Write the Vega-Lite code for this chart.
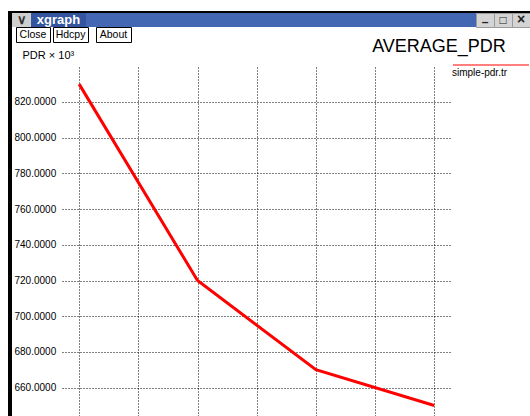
{
  "$schema": "https://vega.github.io/schema/vega-lite/v6.json",
  "padding": {"left": 8, "top": 11, "right": 0, "bottom": 0},
  "background": "white",
  "config": {"view": {"stroke": null}, "font": "Liberation Sans"},
  "bounds": "flush",
  "spacing": 0,
  "hconcat": [
    {"width": 4, "height": 405, "view": {"fill": "black"}, "data": {"values": []}, "mark": "point"},
    {
      "bounds": "flush",
      "spacing": 56,
      "vconcat": [
        {
          "bounds": "flush",
          "spacing": 0,
          "vconcat": [
            {"width": 518, "height": 2, "view": {"fill": "black"}, "data": {"values": []}, "mark": "point"},
            {
              "bounds": "flush",
              "spacing": 0,
              "hconcat": [
                {"width": 19, "height": 14, "view": {"fill": "#cfcfcf"}, "data": {"values": [{"t": "∨"}]}, "mark": {"type": "text", "fontSize": 13, "fontWeight": "bold", "color": "#333333"}, "encoding": {"text": {"field": "t"}}},
                {"width": 55, "height": 14, "view": {"fill": "#34549f"}, "data": {"values": [{"t": "xgraph"}]}, "mark": {"type": "text", "fontSize": 13, "fontWeight": "bold", "color": "white"}, "encoding": {"text": {"field": "t"}}},
                {"width": 390, "height": 14, "view": {"fill": "#4467b3"}, "data": {"values": []}, "mark": "point"},
                {"width": 18, "height": 14, "view": {"fill": "#d4d4d4", "stroke": "#9a9a9a"}, "data": {"values": [{"t": "–"}]}, "mark": {"type": "text", "fontSize": 12, "fontWeight": "bold", "color": "#222222", "dy": 2}, "encoding": {"text": {"field": "t"}}},
                {"width": 18, "height": 14, "view": {"fill": "#d4d4d4", "stroke": "#9a9a9a"}, "data": {"values": [{"t": "□"}]}, "mark": {"type": "text", "fontSize": 12, "fontWeight": "bold", "color": "#222222"}, "encoding": {"text": {"field": "t"}}},
                {"width": 18, "height": 14, "view": {"fill": "#d4d4d4", "stroke": "#9a9a9a"}, "data": {"values": [{"t": "×"}]}, "mark": {"type": "text", "fontSize": 14, "fontWeight": "bold", "color": "#222222"}, "encoding": {"text": {"field": "t"}}}
              ]
            },
            {"width": 518, "height": 14, "data": {"values": []}, "mark": "point"},
            {
              "bounds": "flush",
              "spacing": 0,
              "hconcat": [
                {"width": 4, "height": 16, "data": {"values": []}, "mark": "point"},
                {"width": 34, "height": 15, "view": {"fill": "white", "stroke": "black"}, "data": {"values": [{"label": "Close"}]}, "mark": {"type": "text", "fontSize": 10.5, "color": "black"}, "encoding": {"text": {"field": "label"}}},
                {"width": 3, "height": 16, "data": {"values": []}, "mark": "point"},
                {"width": 35, "height": 15, "view": {"fill": "white", "stroke": "black"}, "data": {"values": [{"label": "Hdcpy"}]}, "mark": {"type": "text", "fontSize": 10.5, "color": "black"}, "encoding": {"text": {"field": "label"}}},
                {"width": 8, "height": 16, "data": {"values": []}, "mark": "point"},
                {"width": 35, "height": 15, "view": {"fill": "white", "stroke": "black"}, "data": {"values": [{"label": "About"}]}, "mark": {"type": "text", "fontSize": 10.5, "color": "black"}, "encoding": {"text": {"field": "label"}}},
                {"width": 233, "height": 16, "data": {"values": []}, "mark": "point"},
                {"width": 150, "height": 39, "data": {"values": [{"label": "AVERAGE_PDR"}]}, "mark": {"type": "text", "fontSize": 18, "color": "black"}, "encoding": {"text": {"field": "label"}}}
              ]
            }
          ]
        },
        {
          "bounds": "flush",
          "spacing": 0,
          "resolve": {"scale": {"color": "independent"}, "legend": {"color": "independent"}},
          "hconcat": [
            {"width": 50, "height": 349, "data": {"values": []}, "mark": "point"},
            {
              "width": 390,
              "height": 349,
              "data": {"values": [
                {"x": 10, "pdr": 830, "series": "simple-pdr.tr"},
                {"x": 20, "pdr": 720, "series": "simple-pdr.tr"},
                {"x": 30, "pdr": 670, "series": "simple-pdr.tr"},
                {"x": 40, "pdr": 650, "series": "simple-pdr.tr"}
              ]},
              "mark": {"type": "line", "strokeWidth": 3, "clip": false},
              "encoding": {
                "x": {"field": "x", "type": "quantitative",
                      "scale": {"domain": [8.55, 41.5], "nice": false, "zero": false},
                      "axis": {"values": [10, 15, 20, 25, 30, 35, 40], "grid": true, "labels": false, "ticks": false, "domain": false, "title": null, "gridColor": "#000000", "gridOpacity": 1, "gridDash": [1, 2], "gridWidth": 1}},
                "y": {"field": "pdr", "type": "quantitative",
                      "scale": {"domain": [644.1, 839.6], "nice": false, "zero": false},
                      "axis": {"values": [660, 680, 700, 720, 740, 760, 780, 800, 820], "format": ".4f",
                               "labelAlign": "left", "labelBaseline": "middle", "labelPadding": 48, "ticks": false, "tickSize": 0, "domain": false,
                               "labelFontSize": 10, "labelColor": "black",
                               "grid": true, "gridColor": "#000000", "gridOpacity": 1, "gridDash": [1, 2], "gridWidth": 1,
                               "title": "PDR × 10³", "titleAngle": 0, "titleX": -40, "titleY": -9, "titleAlign": "left", "titleBaseline": "alphabetic",
                               "titleFontSize": 11, "titleFontWeight": "normal", "titleColor": "black"}},
                "color": {"field": "series", "type": "nominal", "scale": {"range": ["#ff0000"]},
                          "legend": {"orient": "none", "legendX": 390, "legendY": -41, "padding": 0,
                                     "symbolType": "stroke", "symbolSize": 5776, "symbolStrokeWidth": 1.2, "symbolOffset": 0,
                                     "labelExpr": "''", "labelOffset": 0,
                                     "title": "simple-pdr.tr", "titleOrient": "bottom", "titleAnchor": "start", "titleAlign": "left",
                                     "titleFontSize": 10, "titleFontWeight": "normal", "titleColor": "black", "titlePadding": -2}}
              }
            }
          ]
        }
      ]
    }
  ]
}
